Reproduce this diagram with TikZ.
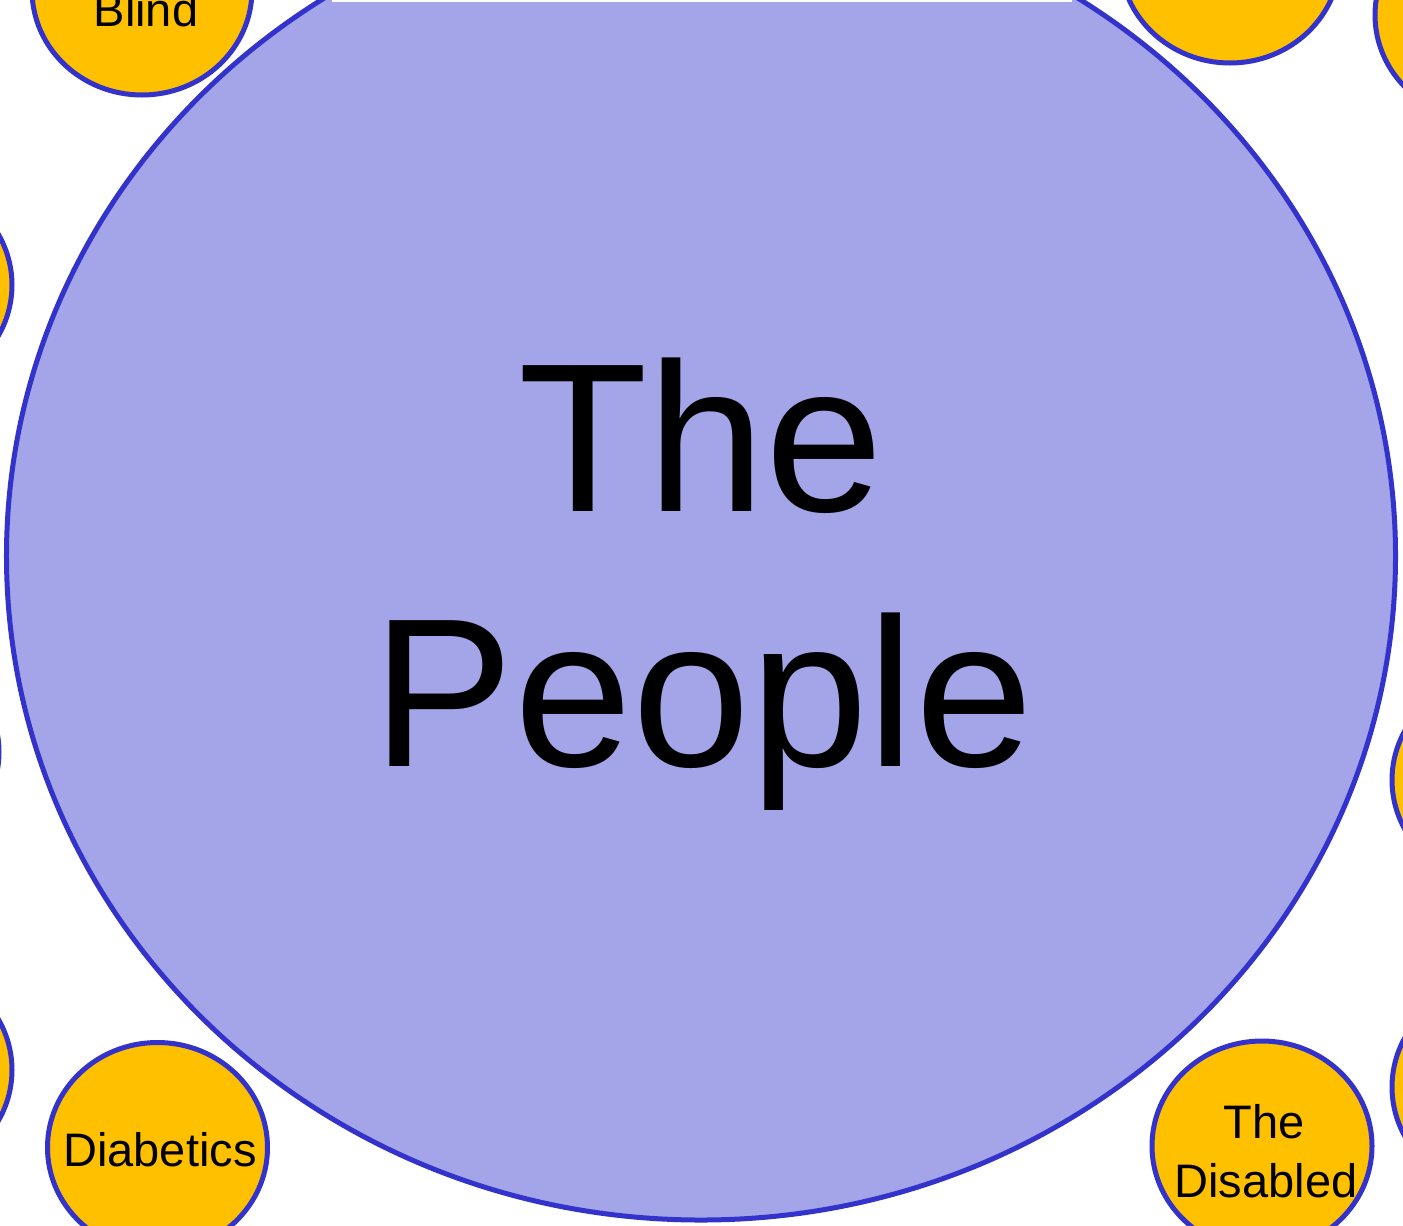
\documentclass[tikz,border=0pt]{standalone}
\usepackage{fontspec}
\setmainfont{Liberation Sans}
\usetikzlibrary{shapes.geometric}
\definecolor{ppl}{HTML}{A3A5E8}
\definecolor{edgeblue}{HTML}{3333CC}
\definecolor{grp}{HTML}{FFC000}
\begin{document}
\begin{tikzpicture}[x=1bp,y=-1bp,
  bigdisc/.style={ellipse, fill=ppl, draw=edgeblue, line width=5bp, minimum width=1389bp, minimum height=1328bp, inner sep=0pt},
  groupdisc/.style={ellipse, fill=grp, draw=edgeblue, line width=5bp, minimum width=220bp, minimum height=210bp, inner sep=0pt},
  lbl/.style={anchor=base, inner sep=0pt, font=\fontsize{47bp}{59bp}\selectfont},
  biglbl/.style={anchor=base, inner sep=0pt, font=\fontsize{212bp}{255bp}\selectfont}]
\useasboundingbox (0,0) rectangle (1403,1225);
\clip (0,0) rectangle (1403,1225);
\fill[white] (0,0) rectangle (1403,1225);
% central group
\node[bigdisc] (people) at (701,556) {};
\fill[white] (332,0) rectangle (1072,2);
\node[biglbl] (the) at (701,511) {The};
\node[biglbl] (peoplelbl) at (703,766) {People};
% surrounding groups
\node[groupdisc] (blind) at (142,-10) {};
\node[lbl] (blindlbl) at (146,26) {Blind};
\node[groupdisc] (topr) at (1230,-42) {};
\node[groupdisc] (toprr) at (1485,15) {};
\node[groupdisc] (leftA) at (-98,285) {};
\node[groupdisc] (leftB) at (-111,752) {};
\node[groupdisc] (leftC) at (-98,1070) {};
\node[groupdisc] (diab) at (157.5,1147.5) {};
\node[lbl] (diablbl) at (160,1166) {Diabetics};
\node[groupdisc] (disab) at (1262,1146) {};
\node[lbl] (disabA) at (1264,1138) {The};
\node[lbl] (disabB) at (1266,1197) {Disabled};
\node[groupdisc] (rightA) at (1502,780) {};
\node[groupdisc] (rightB) at (1502,1087) {};
\end{tikzpicture}
\end{document}
